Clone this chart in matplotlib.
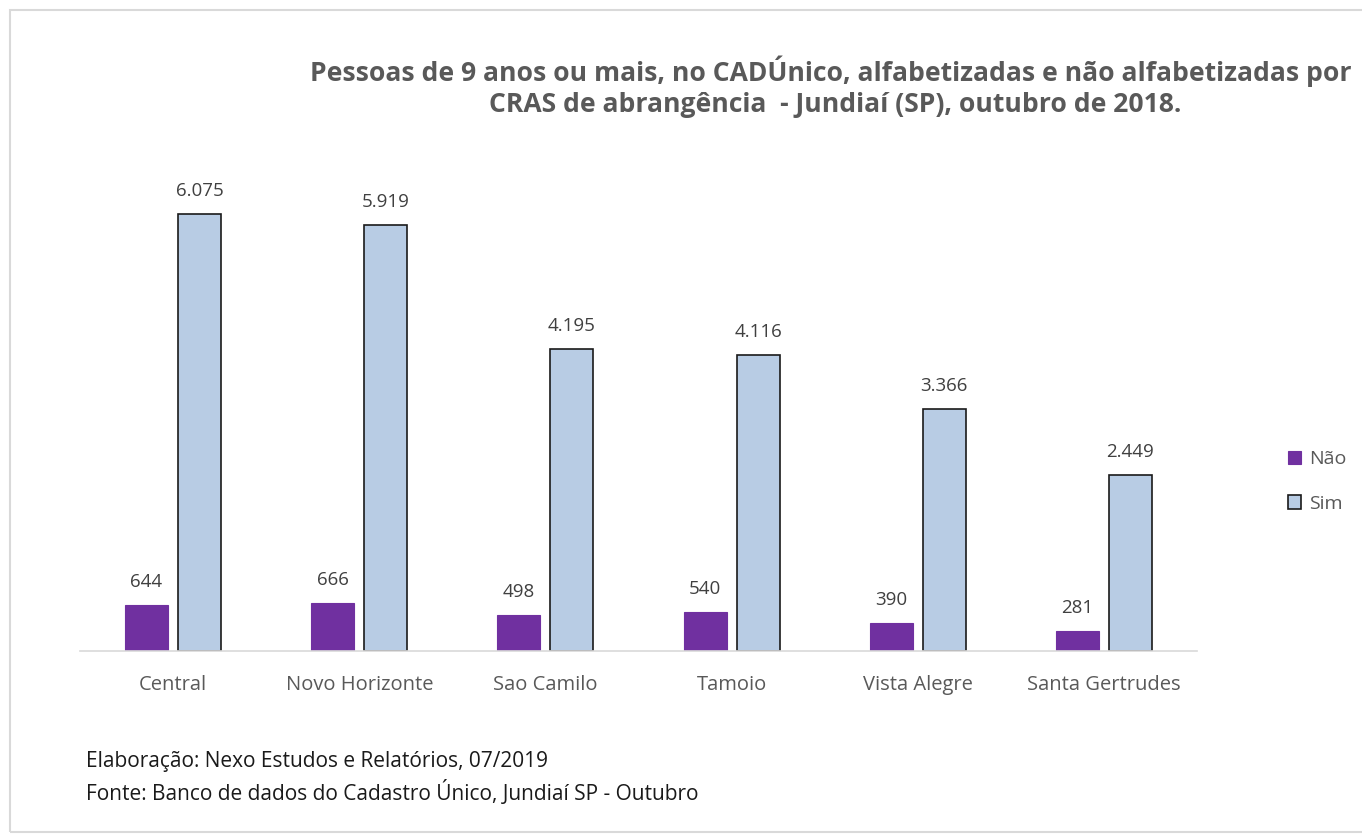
import matplotlib
matplotlib.use("Agg")
import matplotlib.pyplot as plt
import numpy as np
from matplotlib.patches import Rectangle

categories = ["Central", "Novo Horizonte", "Sao Camilo", "Tamoio", "Vista Alegre", "Santa Gertrudes"]
nao = [644, 666, 498, 540, 390, 281]
sim = [6075, 5919, 4195, 4116, 3366, 2449]
series_names = ["Não", "Sim"]

def fmt(v):
    return f"{v:,}".replace(",", ".")

plt.rcParams['font.family'] = ['Open Sans', 'DejaVu Sans']

fig = plt.figure(figsize=(13.62, 8.36), dpi=100)
fig.patch.set_facecolor("white")
ax = fig.add_axes([80/1362, 185/836, 1117/1362, 504/836])

x = np.arange(len(categories))
w = 0.231
off = 0.1425
b1 = ax.bar(x - off, nao, w, color="#7030A0", edgecolor="#7030A0", linewidth=0.8, label=series_names[0])
b2 = ax.bar(x + off, sim, w, color="#B8CCE4", edgecolor="#1a1a1a", linewidth=1.2, label=series_names[1])

for rects, vals in ((b1, nao), (b2, sim)):
    for r, v in zip(rects, vals):
        ax.annotate(fmt(v), (r.get_x() + r.get_width()/2, v), xytext=(0, 10),
                    textcoords="offset points", ha="center", va="bottom",
                    fontsize=13.5, color="#404040")

ax.set_xlim(-0.5, len(categories) - 0.5)
ax.set_ylim(0, 7000)
ax.set_xticks(x)
ax.set_xticklabels(categories, fontsize=14.5, color="#595959")
ax.tick_params(axis="x", length=0, pad=17)
ax.set_yticks([])
for s in ["top", "right", "left"]:
    ax.spines[s].set_visible(False)
ax.spines["bottom"].set_color("#D9D9D9")
ax.spines["bottom"].set_linewidth(1.2)

fig.text(831/1362, 1 - 71/836, "Pessoas de 9 anos ou mais, no CADÚnico, alfabetizadas e não alfabetizadas por",
         ha="center", va="center", fontsize=19.1, fontweight="bold", color="#595959")
fig.text(835/1362, 1 - 105/836, "CRAS de abrangência  - Jundiaí (SP), outubro de 2018.",
         ha="center", va="center", fontsize=19.1, fontweight="bold", color="#595959")

leg = fig.legend(handles=[b1, b2], labels=series_names, loc="upper left",
                 bbox_to_anchor=(1270/1362, 1 - 433/836), frameon=False,
                 fontsize=14, labelcolor="#595959", handlelength=0.7, handleheight=0.7,
                 handletextpad=0.4, labelspacing=1.35)

fig.text(86/1362, 1 - 762/836, "Elaboração: Nexo Estudos e Relatórios, 07/2019",
         ha="left", va="center", fontsize=15, color="#1a1a1a")
fig.text(86/1362, 1 - 792/836, "Fonte: Banco de dados do Cadastro Único, Jundiaí SP - Outubro",
         ha="left", va="center", fontsize=15, color="#1a1a1a")

fig.patches.append(Rectangle((10/1362, 1 - 832/836), 1360/1362, 822/836, transform=fig.transFigure,
                             fill=False, edgecolor="#D9D9D9", linewidth=1.5))

fig.savefig("out.png", dpi=100, facecolor="white")
